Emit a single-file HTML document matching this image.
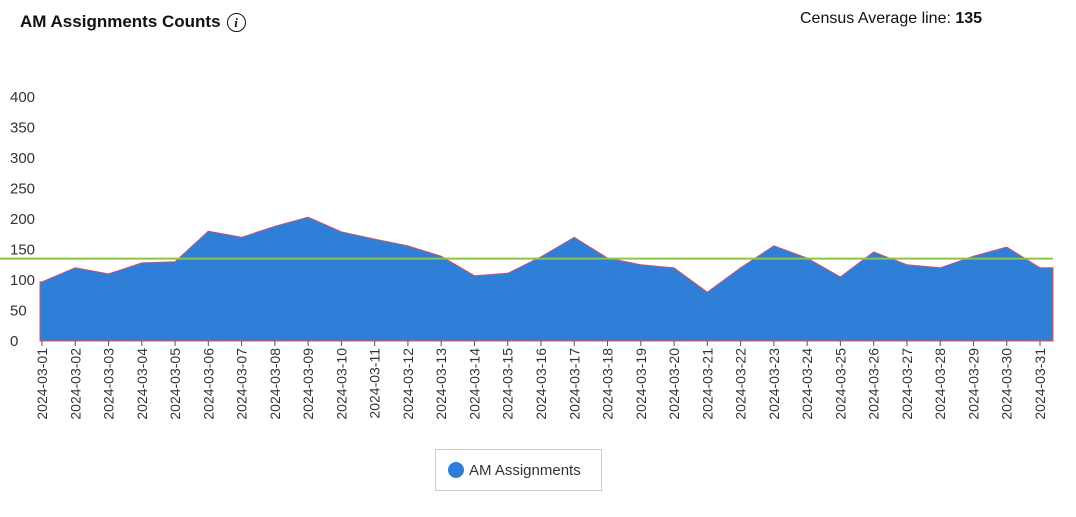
<!DOCTYPE html>
<html><head><meta charset="utf-8">
<style>
body{margin:0;width:1076px;height:517px;background:#fff;font-family:"Liberation Sans",Arial,sans-serif;overflow:hidden;position:relative}
.title{position:absolute;left:20px;top:12px;font-size:17px;font-weight:bold;color:#111}
.info{display:inline-block;width:17px;height:17px;border:1.5px solid #111;border-radius:50%;font-size:13px;font-style:italic;text-align:center;line-height:17px;margin-left:6px;vertical-align:middle;font-weight:bold;font-family:"Liberation Serif",serif}
.census{position:absolute;left:800px;top:10px;font-size:16px;color:#111}
.legend{position:absolute;left:435px;top:449px;width:167px;height:42px;border:1px solid #ccc;box-sizing:border-box;font-size:15px;color:#333;display:flex;align-items:center;padding-left:12px}
.dot{width:16px;height:16px;border-radius:50%;background:#2f7ed8;margin-right:5px}
</style></head><body>
<div class="title">AM Assignments Counts<span class="info">i</span></div>
<div class="census">Census Average line: <b>135</b></div>
<svg id="chart" width="1076" height="517" style="position:absolute;left:0;top:0"></svg>
<div class="legend"><span class="dot"></span>AM Assignments</div>
<script>
const categories=["2024-03-01","2024-03-02","2024-03-03","2024-03-04","2024-03-05","2024-03-06","2024-03-07","2024-03-08","2024-03-09","2024-03-10","2024-03-11","2024-03-12","2024-03-13","2024-03-14","2024-03-15","2024-03-16","2024-03-17","2024-03-18","2024-03-19","2024-03-20","2024-03-21","2024-03-22","2024-03-23","2024-03-24","2024-03-25","2024-03-26","2024-03-27","2024-03-28","2024-03-29","2024-03-30","2024-03-31"];
const values=[97,120,110,128,130,180,170,188,203,179,167,156,139,107,111,138,170,136,125,120,80,120,156,136,105,146,125,120,139,154,120];
const yTicks=[0,50,100,150,200,250,300,350,400];
const average=[135];
const svg=document.getElementById('chart');
const NS='http://www.w3.org/2000/svg';
const y0=341,pxPer=0.61,x0=42,x1=1040;
const yS=v=>y0-v*pxPer;
const xS=i=>x0+i*(x1-x0)/(categories.length-1);
function mk(t,a){const e=document.createElementNS(NS,t);for(const k in a)e.setAttribute(k,a[k]);svg.appendChild(e);return e;}
yTicks.forEach(t=>{const e=mk('text',{x:10,y:yS(t)+5,'font-size':15,fill:'#333'});


e.textContent=t;});
let d=`M${xS(0)-2},${y0} L${xS(0)-2},${yS(values[0])}`;
values.forEach((v,i)=>{d+=` L${xS(i)},${yS(v)}`;});
d+=` L${xS(values.length-1)+13},${yS(values[values.length-1])} L${xS(values.length-1)+13},${y0} Z`;
const area=mk('path',{d:d,fill:'#2f7ed8',stroke:'#e05050','stroke-width':1});


const avg=mk('line',{x1:0,x2:1053,y1:yS(average[0]),y2:yS(average[0]),stroke:'#8cc63f','stroke-width':2});


categories.forEach((c,i)=>{const x=xS(i);
const t=mk('line',{x1:x,x2:x,y1:y0,y2:y0+5,stroke:'#555'});


const e=mk('text',{x:0,y:0,'font-size':14,fill:'#333','text-anchor':'end',transform:`translate(${x+5},${y0+7}) rotate(-90)`});


e.textContent=c;});
</script>
</body></html>
